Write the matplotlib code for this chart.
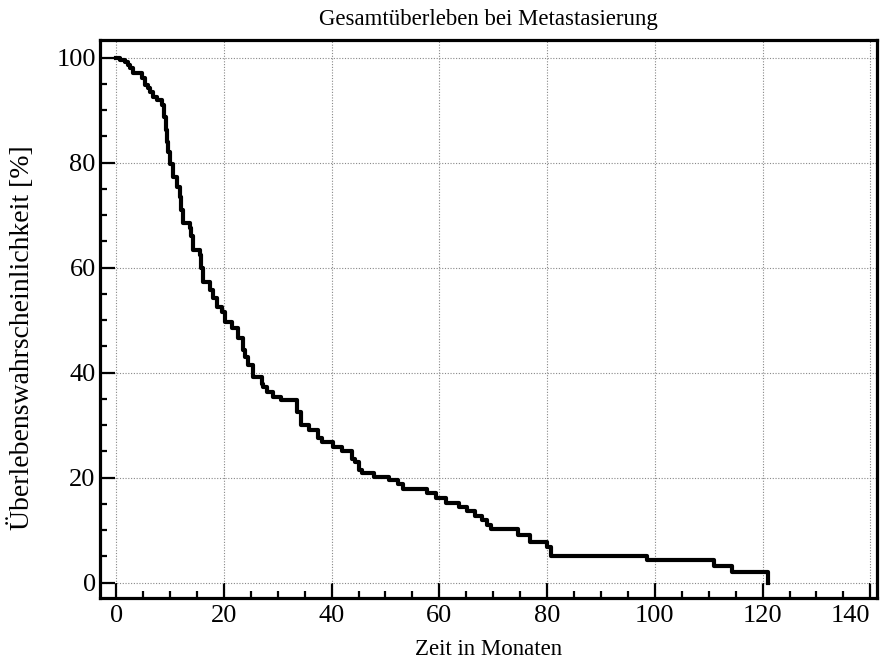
import matplotlib.pyplot as plt
from matplotlib.ticker import MultipleLocator

# Kaplan-Meier steps: time in months, survival (%) after each step
zeit = [0, 0.8, 1.7, 2.2, 2.6, 3.1, 4.8, 5.4, 6.0, 6.3, 6.9, 7.6, 8.5, 8.9, 9.3, 9.5, 9.7,
        10.0, 10.6, 11.3, 11.9, 12.1, 12.4, 13.7, 14.0, 14.3, 15.6, 15.8, 16.1, 17.4, 18.0,
        18.7, 19.6, 20.2, 21.5, 22.6, 23.5, 24.0, 24.4, 25.4, 27.0, 27.2, 28.1, 29.1, 30.7,
        33.6, 34.3, 35.9, 37.4, 38.3, 40.2, 42.0, 43.7, 44.3, 45.0, 45.7, 47.8, 50.7, 52.4,
        53.3, 57.8, 59.4, 61.3, 63.7, 65.1, 66.7, 68.0, 68.8, 69.6, 74.6, 76.9, 80.0, 80.8,
        98.5, 111.0, 114.3, 121.0]
ueberleben = [100, 99.6, 99.2, 98.6, 98.1, 97.1, 96.2, 94.9, 94.2, 93.5, 92.6, 92.0, 91.0,
              88.8, 86.3, 84.0, 82.0, 79.8, 77.3, 75.4, 73.5, 71.0, 68.6, 67.6, 66.0, 63.4,
              62.5, 60.0, 57.3, 55.8, 54.3, 52.6, 51.6, 49.7, 48.6, 46.7, 44.4, 43.0, 41.5,
              39.2, 37.9, 37.3, 36.4, 35.4, 34.7, 32.5, 30.1, 29.1, 27.6, 26.7, 25.9, 25.1,
              23.6, 22.9, 21.5, 20.8, 20.2, 19.6, 18.8, 17.9, 17.1, 16.2, 15.2, 14.5, 13.6,
              12.7, 12.0, 11.0, 10.2, 9.1, 7.8, 6.8, 5.0, 4.4, 3.2, 2.0, 0]

plt.rcParams['font.family'] = ['Liberation Serif', 'DejaVu Serif']
plt.rcParams['font.size'] = 16

fig = plt.figure(figsize=(8.92, 6.65), dpi=100)
ax = fig.add_axes([0.112, 0.101, 0.871, 0.839])

ax.step(zeit, ueberleben, where='post', color='k', linewidth=3.0, zorder=3)

ax.set_xlim(-3, 141.2)
ax.set_ylim(-2.9, 103.4)
ax.xaxis.set_major_locator(MultipleLocator(20))
ax.xaxis.set_minor_locator(MultipleLocator(5))
ax.yaxis.set_major_locator(MultipleLocator(20))
ax.yaxis.set_minor_locator(MultipleLocator(5))
ax.tick_params(which='major', direction='in', length=11, width=1.6, labelsize=19)
ax.tick_params(axis='y', which='major', pad=3)
ax.tick_params(axis='x', which='major', pad=5)
ax.tick_params(which='minor', direction='in', length=5, width=1.6)
ax.grid(which='major', color='#888888', linestyle=(0, (1, 1.5)), linewidth=0.8)
for s in ax.spines.values():
    s.set_linewidth(2.3)

ax.set_title('Gesamtüberleben bei Metastasierung', fontsize=16.5, pad=11)
ax.set_xlabel('Zeit in Monaten', fontsize=16.5, labelpad=9)
ax.set_ylabel('Überlebenswahrscheinlichkeit [%]', fontsize=20)
ax.yaxis.set_label_coords(-0.084, 0.466)

# the last x label sits inside the frame, as in the reference
fig.canvas.draw()
for lab in ax.get_xticklabels():
    if lab.get_text() == '140':
        lab.set_horizontalalignment('right')

fig.savefig('out.png', dpi=100)
